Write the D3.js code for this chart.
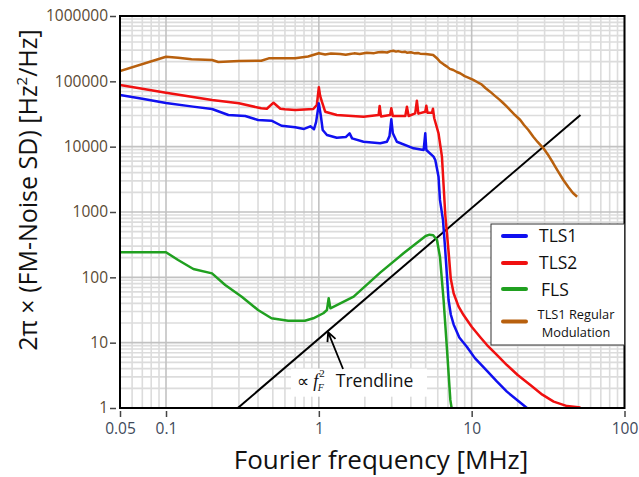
<!DOCTYPE html>
<html><head><meta charset="utf-8">
<script src="https://cdn.jsdelivr.net/npm/d3@7"></script>
<style>body{margin:0;background:#fff;} svg{display:block;font-family:"Open Sans",sans-serif;}</style>
</head><body><svg id="c" width="639" height="477"></svg>
<script>
// ---------- data ----------
const xTickLabels = [0.05, 0.1, 1, 10, 100];
const yTickLabels = [1, 10, 100, 1000, 10000, 100000, 1000000];
const seriesNames = ["TLS1", "TLS2", "FLS", "TLS1 Regular Modulation"];

const tls1 = [[0.05,62000],[0.07,54000],[0.1,46500],[0.15,41000],[0.2,37700],[0.256,30500],[0.33,29500],[0.40,25600],[0.49,25000],[0.57,20900],[0.70,19800],[0.80,18700],[0.88,20500],[0.93,18500],[0.96,24000],[1.0,46000],[1.03,30000],[1.06,18000],[1.13,15100],[1.31,13700],[1.5,14000],[1.59,16000],[1.65,13400],[1.96,11900],[2.52,11300],[2.79,11900],[2.9,14500],[2.98,26200],[3.05,16000],[3.24,11900],[4.17,9440],[4.85,8890],[4.97,16000],[5.05,8890],[5.63,7030],[5.78,6250],[6.07,3470],[6.2,1530],[6.49,755],[6.7,280],[6.9,100],[7.06,45],[7.3,27],[7.62,19],[8.3,12],[9.32,8.6],[10.5,5.8],[12.6,3.7],[14.5,2.6],[17,1.78],[20,1.3],[23,1.0]];

const tls2 = [[0.05,88000],[0.1,67000],[0.2,51800],[0.3,46100],[0.42,38700],[0.457,38100],[0.505,47100],[0.56,38000],[0.60,37300],[0.70,36400],[0.92,37700],[0.97,43500],[1.0,81000],[1.02,60000],[1.047,48800],[1.10,34300],[1.31,30500],[1.96,28800],[2.46,30500],[2.50,42000],[2.55,29000],[2.93,30500],[2.98,38700],[3.05,29500],[3.68,29500],[3.77,40900],[3.87,29500],[4.27,32400],[4.38,50600],[4.48,32000],[4.97,34300],[5.05,42400],[5.14,33000],[5.50,33100],[5.58,38100],[5.69,27200],[6.07,16000],[6.39,7030],[6.72,900],[7.06,250],[7.3,95],[7.62,57],[8.2,36],[8.85,26.5],[10,17.5],[11.5,11.8],[12.6,9.2],[14.5,6.6],[17,4.55],[20,3.2],[24.2,2.25],[29,1.6],[34.4,1.25],[42.1,1.07],[51.5,1.02]];

const fls = [[0.05,242],[0.1,242],[0.12,184],[0.151,134],[0.2,115],[0.244,76.4],[0.313,50.6],[0.40,31.6],[0.49,23.6],[0.63,21.7],[0.81,21.7],[0.92,23.6],[1.07,28.2],[1.13,31.6],[1.16,47.8],[1.19,33.6],[1.69,50.6],[2.52,118],[3.58,233],[5.0,430],[5.3,450],[5.6,440],[5.93,373],[6.2,207],[6.55,45],[6.9,7.7],[7.25,1.33],[7.43,0.93]];

const tls1Mod = [[0.05,144000],[0.1,238000],[0.12,230000],[0.147,217000],[0.2,212000],[0.22,198000],[0.3,205000],[0.42,207000],[0.47,225000],[0.7,225000],[0.85,240000],[1.0,269000],[1.1,258000],[1.2,266000],[1.38,262000],[1.5,255000],[1.6,262000],[1.7,268000],[1.85,262000],[2.06,274000],[2.3,270000],[2.45,279000],[2.6,282000],[2.8,276000],[2.95,290000],[3.07,294000],[3.2,285000],[3.3,290000],[3.5,280000],[3.65,284000],[3.77,274000],[4.0,278000],[4.2,270000],[4.45,272000],[4.6,265000],[5.0,262000],[5.3,258000],[5.6,253000],[5.9,228000],[6.2,200000],[6.55,182000],[6.9,168000],[7.2,155000],[7.58,149000],[8.0,139000],[8.4,133000],[9.0,120000],[9.5,114000],[10.25,105000],[11,96000],[11.6,90000],[12.3,79000],[13.2,69500],[14.2,60000],[15.2,52500],[16,47000],[17,40900],[18,35500],[19.2,30500],[20.8,25600],[22,21500],[23.5,18000],[25.3,14200],[27,11800],[29.5,9440],[31.5,7600],[34.2,5570],[36.5,4300],[39.8,3090],[43,2400],[46,1950],[49,1710]];

const trend = [[0.295,1],[51.5,30500]];
// annotation anchor points (data space): arrow tip, arrow tail, label start
const arrowTip = [1.15, 14.5], arrowTail = [1.44, 3.95], labelAt = [0.72, 2.12];

// ---------- layout ----------
const L = 120, R = 624.5, T = 16, B = 408;
const colors = ["#1010f0", "#f01010", "#20a020", "#b8600e"];
const svg = d3.select("#c");
const x = d3.scaleLog().domain([0.05, 100]).range([L, R]);
const y = d3.scaleLog().domain([1, 1e6]).range([B, T]);

// grid
const g = svg.append("g");
const majX = [0.1, 1, 10], majY = [10, 100, 1000, 10000, 100000];
g.selectAll(".gx").data(x.ticks().filter(d => !majX.includes(d))).join("line")
  .attr("x1", d => x(d)).attr("x2", d => x(d)).attr("y1", T).attr("y2", B)
  .attr("stroke", "#dcdcdc").attr("stroke-width", 1.6);
g.selectAll(".gy").data(y.ticks().filter(d => !majY.includes(d))).join("line")
  .attr("y1", d => y(d)).attr("y2", d => y(d)).attr("x1", L).attr("x2", R)
  .attr("stroke", "#dcdcdc").attr("stroke-width", 1.6);
g.selectAll(".Gx").data(majX).join("line")
  .attr("x1", d => x(d)).attr("x2", d => x(d)).attr("y1", T).attr("y2", B)
  .attr("stroke", "#c2c2c2").attr("stroke-width", 1.6);
g.selectAll(".Gy").data(majY).join("line")
  .attr("y1", d => y(d)).attr("y2", d => y(d)).attr("x1", L).attr("x2", R)
  .attr("stroke", "#c2c2c2").attr("stroke-width", 1.6);

// clip
svg.append("clipPath").attr("id", "clip").append("rect")
  .attr("x", L).attr("y", T).attr("width", R - L).attr("height", B - T);

const line = d3.line().x(d => x(d[0])).y(d => y(d[1]));
const plot = svg.append("g").attr("clip-path", "url(#clip)");
plot.append("path").datum(trend).attr("d", line)
  .attr("fill", "none").attr("stroke", "#000").attr("stroke-width", 2);
[tls1Mod, fls, tls2, tls1].forEach((s, i) => {
  const ci = [3, 2, 1, 0][i];
  plot.append("path").datum(s).attr("d", line).attr("fill", "none")
    .attr("stroke", colors[ci]).attr("stroke-width", 2.5).attr("stroke-linejoin", "round");
});

// border
svg.append("rect").attr("x", L).attr("y", T).attr("width", R - L).attr("height", B - T)
  .attr("fill", "none").attr("stroke", "#000").attr("stroke-width", 2);

// axes
const ya = svg.append("g").attr("transform", `translate(${L - 4},0)`)
  .call(d3.axisLeft(y).tickValues(yTickLabels).tickFormat(d3.format("d")).tickSize(6).tickSizeOuter(0).tickPadding(2));
ya.select(".domain").remove();
ya.selectAll("text").attr("font-size", 15.5).attr("fill", "#5a4a34").attr("font-family", "Open Sans");
ya.selectAll("line").attr("stroke", "#444").attr("stroke-width", 1.5);
const xa = svg.append("g").attr("transform", `translate(0,${B + 3})`)
  .call(d3.axisBottom(x).tickValues(xTickLabels).tickFormat(d => String(d)).tickSize(6).tickSizeOuter(0).tickPadding(6));
xa.select(".domain").remove();
xa.selectAll("text").attr("font-size", 15.5).attr("fill", "#3e4a5a").attr("font-family", "Open Sans");
xa.selectAll("line").attr("stroke", "#444").attr("stroke-width", 1.5);

// axis titles
svg.append("text").attr("x", 381).attr("y", 469).attr("text-anchor", "middle")
  .attr("font-size", 26).attr("fill", "#111").text("Fourier frequency [MHz]");
const yt = svg.append("text").attr("transform", "translate(37,190) rotate(-90)")
  .attr("text-anchor", "middle").attr("font-size", 25).attr("fill", "#111");
yt.append("tspan").text("2π × (FM-Noise SD) [Hz");
yt.append("tspan").attr("font-size", 15).attr("dy", -10).text("2");
yt.append("tspan").attr("dy", 10).text("/Hz]");

// legend
const lg = svg.append("g");
lg.append("rect").attr("x", 491).attr("y", 224).attr("width", 133.5).attr("height", 121)
  .attr("fill", "#fff").attr("stroke", "#333").attr("stroke-width", 1);
const legY = [236, 263, 289, 321.5];
seriesNames.forEach((n, i) => {
  lg.append("line").attr("x1", 503).attr("x2", 526).attr("y1", legY[i]).attr("y2", legY[i])
    .attr("stroke", colors[i]).attr("stroke-width", 4).attr("stroke-linecap", "round");
});
lg.append("text").attr("x", 539).attr("y", 242).attr("font-size", 17.5).attr("fill", "#111").text(seriesNames[0]);
lg.append("text").attr("x", 539).attr("y", 269).attr("font-size", 17.5).attr("fill", "#111").text(seriesNames[1]);
lg.append("text").attr("x", 541).attr("y", 296).attr("font-size", 17.5).attr("fill", "#111").text(seriesNames[2]);
lg.append("text").attr("x", 576).attr("y", 319).attr("font-size", 12.8).attr("text-anchor", "middle").attr("fill", "#111").text("TLS1 Regular");
lg.append("text").attr("x", 576).attr("y", 337).attr("font-size", 12.8).attr("text-anchor", "middle").attr("fill", "#111").text("Modulation");

// annotation
const ax = x(labelAt[0]), ay = y(labelAt[1]);
svg.append("rect").attr("x", ax - 6).attr("y", ay - 18).attr("width", 136).attr("height", 28).attr("fill", "#fff");
const at = svg.append("text").attr("x", ax).attr("y", ay).attr("fill", "#111");
at.append("tspan").attr("font-size", 17).attr("font-family", "DejaVu Sans").text("∝");
at.append("tspan").attr("font-size", 18).attr("dx", 4).attr("font-style", "italic").attr("font-family", "Liberation Serif").text("f");
at.append("tspan").attr("font-size", 11).attr("dy", -10).attr("dx", 1).attr("font-family", "Liberation Serif").text("2");
at.append("tspan").attr("font-size", 10).attr("dy", 14).attr("dx", -7).attr("font-style", "italic").attr("font-family", "Liberation Serif").text("F");
at.append("tspan").attr("font-size", 17.5).attr("dy", -4).attr("dx", 12).text("Trendline");

const tx = x(arrowTip[0]), ty = y(arrowTip[1]), sx = x(arrowTail[0]), sy = y(arrowTail[1]);
const ang = Math.atan2(sy - ty, sx - tx), hl = 10, ha = 0.45;
svg.append("path")
  .attr("d", `M${sx},${sy}L${tx},${ty}M${tx + hl * Math.cos(ang - ha)},${ty + hl * Math.sin(ang - ha)}L${tx},${ty}L${tx + hl * Math.cos(ang + ha)},${ty + hl * Math.sin(ang + ha)}`)
  .attr("fill", "none").attr("stroke", "#000").attr("stroke-width", 1.8);
</script></body></html>
